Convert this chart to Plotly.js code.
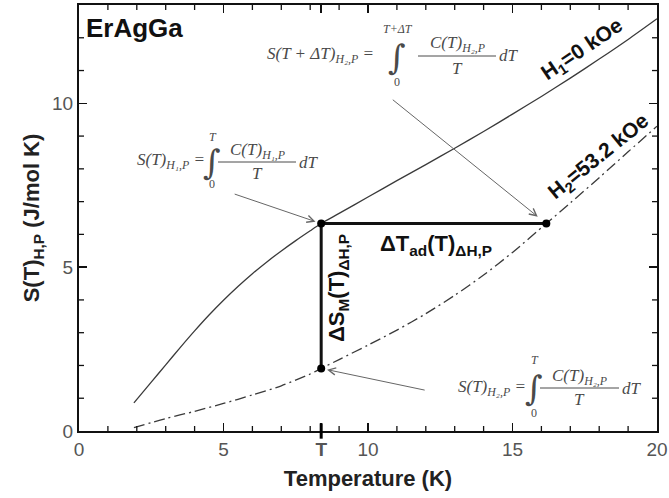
<!DOCTYPE html>
<html>
<head>
<meta charset="utf-8">
<script src="https://cdn.plot.ly/plotly-3.0.1.min.js"></script>
<style>html,body{margin:0;padding:0;background:#fff;}#chart{width:669px;height:498px;}</style>
</head>
<body>
<div id="chart"></div>
<script>
// ---- data ----
const h1T = [1.9, 2.5, 3.0, 3.5, 4.0, 4.5, 5.0, 5.5, 6.0, 6.5, 7.0, 7.5, 8.0, 8.38, 9, 10, 11, 12, 13, 14, 15, 16, 17, 18, 19, 20];
const h1S = [0.86, 1.49, 2.02, 2.545, 3.055, 3.54, 3.99, 4.41, 4.8, 5.16, 5.495, 5.81, 6.11, 6.33, 6.64, 7.14, 7.64, 8.13, 8.63, 9.14, 9.67, 10.21, 10.77, 11.35, 11.95, 12.58];
const h2T = [1.9, 3, 4, 5, 6, 7, 8, 8.38, 9, 10, 11, 12, 13, 14, 15, 16.17, 17, 18, 19, 20];
const h2S = [0.1, 0.38, 0.6, 0.84, 1.1, 1.38, 1.74, 1.91, 2.18, 2.62, 3.08, 3.58, 4.14, 4.76, 5.45, 6.33, 6.96, 7.73, 8.52, 9.3];
const T0 = 8.38;      // temperature T
const TC = 16.17;     // T + dT_ad
const S1 = 6.33;      // S(T) at H1
const S2 = 1.91;      // S(T) at H2
const xTickVals = [0, 5, T0, 10, 15, 20];
const xTickText = ['0', '5', '<b>T</b>', '10', '15', '20'];
const yTickVals = [0, 5, 10];
const xMinorVals = [1, 2, 3, 4, 6, 7, 8, 9, 11, 12, 13, 14, 16, 17, 18, 19];
const yMinorVals = [1, 2, 3, 4, 6, 7, 8, 9, 11, 12];
const xRange = [0, 20];
const yRange = [0, 13];

// ---- layout helpers (pixel -> paper) ----
const W = 669, H = 498, ML = 79, MR = 12, MT = 5, MB = 67;
const PL = ML, PR = W - MR, PT = MT, PB = H - MB;
const px = x => (x - PL) / (PR - PL);
const py = y => (PB - y) / (PB - PT);

const SANS = 'Liberation Sans, Arial, sans-serif';
const SERIF = 'Liberation Serif, Times New Roman, serif';
const FC = '#4a4a4a';
const FS = 17;

const ann = [];
const shapes = [];
function txt(x, y, text, size, opts) {
  ann.push(Object.assign({xref: 'paper', yref: 'paper', x: px(x), y: py(y), text: text, showarrow: false,
    xanchor: 'center', yanchor: 'middle', font: {family: SERIF, size: size, color: FC}}, opts || {}));
}
function formula(o) {
  txt(o.lhsR, o.lhsY, '<i>' + o.lhs + '</i>', FS, {xanchor: 'right'});
  txt(o.intX, o.intY, '∫', 34, {font: {family: 'DejaVu Serif, serif', size: 34, color: FC}});
  txt(o.intX + 1, o.upY, '<i>' + o.up + '</i>', 12);
  txt(o.intX, o.loY, '0', 12);
  txt((o.l0 + o.l1) / 2, o.numY, '<i>' + o.num + '</i>', FS);
  txt((o.l0 + o.l1) / 2, o.denY, '<i>T</i>', FS);
  txt(o.l1 + 1, o.lineY, '<i>dT</i>', FS, {xanchor: 'left'});
  shapes.push({type: 'line', xref: 'paper', yref: 'paper', x0: px(o.l0), x1: px(o.l1), y0: py(o.lineY), y1: py(o.lineY),
    line: {color: FC, width: 1}});
}

// formulas
formula({lhs: 'S(T + ΔT)<sub>H₂,P</sub> =', lhsR: 376, lhsY: 55, intX: 397, intY: 57, up: 'T+ΔT', upY: 29, loY: 82,
  num: 'C(T)<sub>H₂,P</sub>', numY: 44, denY: 69, lineY: 56, l0: 418, l1: 496});
formula({lhs: 'S(T)<sub>H₁,P</sub> =', lhsR: 207, lhsY: 161, intX: 212, intY: 162, up: 'T', upY: 137, loY: 184,
  num: 'C(T)<sub>H₁,P</sub>', numY: 151, denY: 173, lineY: 162, l0: 218, l1: 296});
formula({lhs: 'S(T)<sub>H₂,P</sub> =', lhsR: 528, lhsY: 388, intX: 534, intY: 388, up: 'T', upY: 360, loY: 413,
  num: 'C(T)<sub>H₂,P</sub>', numY: 377, denY: 399, lineY: 388, l0: 540, l1: 619});

// bold labels
txt(84, 28, '<b>ErAgGa</b>', 26, {xanchor: 'left', font: {family: SANS, size: 26, color: '#111'}});
txt(436, 245, '<b>ΔT<sub>ad</sub>(T)<sub>ΔH,P</sub></b>', 22, {font: {family: SANS, size: 22, color: '#111'}});
txt(338, 288, '<b>ΔS<sub>M</sub>(T)<sub>ΔH,P</sub></b>', 22, {textangle: -90, font: {family: SANS, size: 22, color: '#111'}});
txt(582, 50, '<b>H<sub>1</sub>=0 kOe</b>', 21, {textangle: -34, font: {family: SANS, size: 21, color: '#111'}});
txt(599, 157, '<b>H<sub>2</sub>=53.2 kOe</b>', 21, {textangle: -39, font: {family: SANS, size: 21, color: '#111'}});

// arrows pointing at the marked points
const arrowBase = {xref: 'x', yref: 'y', text: '', showarrow: true, arrowhead: 5, arrowsize: 1.4, arrowwidth: 1,
  arrowcolor: '#666', axref: 'pixel', ayref: 'pixel'};
ann.push(Object.assign({}, arrowBase, {x: TC, y: S1, ax: -155, ay: -125, standoff: 11}));
ann.push(Object.assign({}, arrowBase, {x: T0, y: S1, ax: -88, ay: -30, standoff: 6}));
ann.push(Object.assign({}, arrowBase, {x: T0, y: S2, ax: 105, ay: 22, standoff: 6}));

// cross tick at T on the x axis
shapes.push({type: 'line', xref: 'x', yref: 'paper', x0: T0, x1: T0, y0: -0.018, y1: 0.018, line: {color: '#000', width: 3}});

// minor ticks (inside, all four sides)
const mtx = 5 / (PB - PT), mty = 5 / (PR - PL);
const tickLine = {color: '#111', width: 1.3};
xMinorVals.forEach(v => {
  shapes.push({type: 'line', xref: 'x', yref: 'paper', x0: v, x1: v, y0: 0, y1: mtx, line: tickLine});
  shapes.push({type: 'line', xref: 'x', yref: 'paper', x0: v, x1: v, y0: 1 - mtx, y1: 1, line: tickLine});
});
yMinorVals.forEach(v => {
  shapes.push({type: 'line', xref: 'paper', yref: 'y', x0: 0, x1: mty, y0: v, y1: v, line: tickLine});
  shapes.push({type: 'line', xref: 'paper', yref: 'y', x0: 1 - mty, x1: 1, y0: v, y1: v, line: tickLine});
});

const traces = [
  {x: h1T, y: h1S, mode: 'lines', line: {color: '#3a3a3a', width: 1.3, shape: 'spline', smoothing: 0.8}, hoverinfo: 'skip'},
  {x: h2T, y: h2S, mode: 'lines', line: {color: '#3a3a3a', width: 1.3, shape: 'spline', smoothing: 0.8, dash: '11px,4px,2px,4px'}, hoverinfo: 'skip'},
  {x: [T0, T0, TC], y: [S2, S1, S1], mode: 'lines+markers', line: {color: '#111', width: 3},
    marker: {color: '#000', size: 8}, hoverinfo: 'skip'}
];

const axisCommon = {
  showgrid: false, zeroline: false, showline: true, linecolor: '#111', linewidth: 2, mirror: 'allticks',
  ticks: 'inside', ticklen: 8, tickwidth: 1.5, tickcolor: '#111',
  tickfont: {family: SANS, size: 19, color: '#555'}
};

const layout = {
  width: W, height: H, margin: {l: ML, r: MR, t: MT, b: MB},
  paper_bgcolor: '#fff', plot_bgcolor: '#fff', showlegend: false,
  xaxis: Object.assign({}, axisCommon, {range: xRange, tickmode: 'array', tickvals: xTickVals, ticktext: xTickText,
    title: {text: '<b>Temperature (K)</b>', font: {family: SANS, size: 22, color: '#222'}, standoff: 12}}),
  yaxis: Object.assign({}, axisCommon, {range: yRange, tickmode: 'array', tickvals: yTickVals,
    title: {text: '<b>S(T)<sub>H,P</sub> (J/mol K)</b>', font: {family: SANS, size: 22, color: '#222'}, standoff: 6}}),
  annotations: ann, shapes: shapes
};

Plotly.newPlot('chart', traces, layout, {displayModeBar: false, staticPlot: true});
</script>
</body>
</html>
